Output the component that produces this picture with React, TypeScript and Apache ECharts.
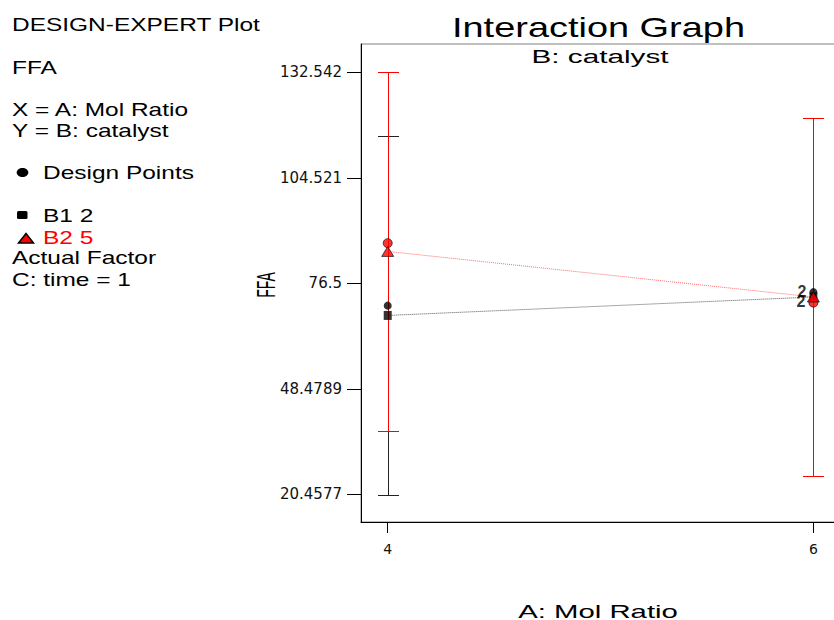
import React, { useEffect, useRef } from "react";
import * as echarts from "echarts";

// ---- data ----
const xLevels = [4, 6];
const b1Mean = [68.0, 72.9];
const b2Mean = [85.0, 72.9];
const b1Half = [47.6, 47.6];
const b2Half = [47.6, 47.6];
const b1Design = [70.6, 74.2];
const b2Design = [87.2, 71.4];
const designCountLabels = ["", "2"];
const yTickValues = [20.4577, 48.4789, 76.5, 104.521, 132.542];
const xTickValues = [4, 6];

const leftLines = [
  { text: "DESIGN-EXPERT Plot", y: 25, x: 12, color: "#000" },
  { text: "FFA", y: 68, x: 12, color: "#000" },
  { text: "X = A: Mol Ratio", y: 110.5, x: 12, color: "#000" },
  { text: "Y = B: catalyst", y: 131.5, x: 12, color: "#000" },
  { text: "Design Points", y: 173.5, x: 43, color: "#000" },
  { text: "B1 2", y: 216.5, x: 43, color: "#000" },
  { text: "B2 5", y: 238.5, x: 43, color: "#ff0000" },
  { text: "Actual Factor", y: 258.5, x: 12, color: "#000" },
  { text: "C: time = 1", y: 280, x: 12, color: "#000" },
];

const FONT = "'Liberation Sans', Arial, sans-serif";

function errBarSeries(means: number[], halves: number[], color: string, z: number) {
  return {
    type: "custom",
    z,
    silent: true,
    data: xLevels.map((x, i) => [x, means[i], halves[i]]),
    renderItem: (params: any, api: any) => {
      const x = api.value(0);
      const m = api.value(1);
      const h = api.value(2);
      const top = api.coord([x, m + h]);
      const bot = api.coord([x, m - h]);
      const px = Math.round(top[0]) + 0.5;
      const ty = Math.round(top[1]) + 0.5;
      const by = Math.round(bot[1]) + 0.5;
      const cw = 10.5;
      return {
        type: "polyline",
        shape: {
          points: [
            [px - cw, ty], [px + cw, ty], [px, ty], [px, by], [px - cw, by], [px + cw, by],
          ],
        },
        style: { stroke: color, lineWidth: 1, fill: "none" },
      };
    },
  };
}

function txt(text: string, x: number, y: number, size: number, sx: number, color: string, align = "left") {
  return {
    type: "text",
    x,
    y,
    scaleX: sx,
    silent: true,
    style: {
      text,
      fill: color,
      fontSize: size,
      fontFamily: FONT,
      textAlign: align,
      align,
      textVerticalAlign: "middle",
      verticalAlign: "middle",
    },
  };
}

function countLabel(i: number, dy: number) {
  return {
    show: designCountLabels[i] !== "",
    formatter: designCountLabels[i],
    position: "left",
    distance: 3,
    offset: [0, dy],
    color: "#000",
    fontSize: 16,
    fontWeight: "bold",
    fontFamily: FONT,
  };
}

export default function App() {
  const ref = useRef<HTMLDivElement>(null);
  useEffect(() => {
    if (!ref.current) return;
    const chart = echarts.init(ref.current, undefined, { renderer: "svg" });
    const graphic: any[] = [
      ...leftLines.map((l) => txt(l.text, l.x, l.y, 18, 1.36, l.color)),
      txt("Interaction Graph", 598.5, 27, 28, 1.355, "#000", "center"),
      txt("B: catalyst", 600, 56.5, 18, 1.65, "#000", "center"),
      txt("A: Mol Ratio", 598, 611.5, 18, 1.63, "#000", "center"),
      {
        type: "text",
        x: 266,
        y: 285,
        rotation: Math.PI / 2,
        scaleY: 1.8,
        silent: true,
        style: {
          text: "FFA",
          fill: "#000",
          fontSize: 14,
          fontFamily: FONT,
          textAlign: "center",
          align: "center",
          textVerticalAlign: "middle",
          verticalAlign: "middle",
        },
      },
      { type: "ellipse", shape: { cx: 22.5, cy: 172.5, rx: 5.8, ry: 4.5 }, style: { fill: "#000" } },
      { type: "rect", shape: { x: 17, y: 211, width: 10.5, height: 8, r: 1.5 }, style: { fill: "#000" } },
      {
        type: "polygon",
        shape: { points: [[26, 233.5], [33.5, 243], [18.5, 243]] },
        style: { fill: "#ff0000", stroke: "#000", lineWidth: 1.5 },
      },
    ];

    chart.setOption({
      animation: false,
      backgroundColor: "#fff",
      graphic,
      grid: {
        left: 361,
        top: 44,
        width: 479,
        height: 478,
        show: true,
        borderColor: "#808080",
        borderWidth: 1,
        backgroundColor: "transparent",
        containLabel: false,
        outerBoundsMode: "none",
      },
      xAxis: {
        type: "value",
        min: 3.8745,
        max: 6.125,
        splitLine: { show: false },
        axisLine: { show: true, lineStyle: { color: "#000", width: 1 } },
        axisTick: { show: true, length: 11, customValues: xTickValues, lineStyle: { color: "#000" } },
        axisLabel: {
          customValues: xTickValues,
          margin: 20,
          color: "#111",
          fontSize: 14,
          fontFamily: "'DejaVu Sans', sans-serif",
          formatter: (v: number) => String(v),
        },
      },
      yAxis: {
        type: "value",
        min: 13.13,
        max: 140.1,
        splitLine: { show: false },
        axisLine: { show: true, lineStyle: { color: "#000", width: 1 } },
        axisTick: { show: true, length: 14, customValues: yTickValues, lineStyle: { color: "#000" } },
        axisLabel: {
          customValues: yTickValues,
          margin: 19,
          color: "#111",
          fontSize: 15,
          fontFamily: "'DejaVu Sans', sans-serif",
          formatter: (v: number) => String(v),
        },
      },
      series: [
        errBarSeries(b1Mean, b1Half, "#222222", 2),
        errBarSeries(b2Mean, b2Half, "#ff0000", 3),
        {
          type: "line",
          z: 4,
          symbol: "none",
          silent: true,
          data: xLevels.map((x, i) => [x, b1Mean[i]]),
          lineStyle: { color: "#555", width: 1, type: "dotted" },
        },
        {
          type: "line",
          z: 4,
          symbol: "none",
          silent: true,
          data: xLevels.map((x, i) => [x, b2Mean[i]]),
          lineStyle: { color: "#ff6a6a", width: 1, type: "dotted" },
        },
        {
          type: "scatter",
          z: 5,
          symbol: "circle",
          symbolSize: 8,
          silent: true,
          data: xLevels.map((x, i) => ({ value: [x, b1Design[i]], label: countLabel(i, -1) })),
          itemStyle: { color: "#000" },
        },
        {
          type: "scatter",
          z: 6,
          symbol: "rect",
          symbolSize: [8, 9],
          silent: true,
          data: xLevels.map((x, i) => [x, b1Mean[i]]),
          itemStyle: { color: "#000" },
        },
        {
          type: "scatter",
          z: 7,
          symbol: "circle",
          symbolSize: 9,
          silent: true,
          data: xLevels.map((x, i) => ({ value: [x, b2Design[i]], label: countLabel(i, -1) })),
          itemStyle: { color: "#ff0000", borderColor: "#000", borderWidth: 0.8 },
        },
        {
          type: "scatter",
          z: 8,
          symbol: "triangle",
          symbolSize: [12, 10],
          silent: true,
          data: xLevels.map((x, i) => [x, b2Mean[i]]),
          itemStyle: { color: "#ff0000", borderColor: "#000", borderWidth: 0.8 },
        },
      ],
    });
    return () => chart.dispose();
  }, []);
  return (
    <div
      ref={ref}
      style={{ position: "absolute", left: 0, top: 0, width: 834, height: 620, background: "#fff" }}
    />
  );
}
